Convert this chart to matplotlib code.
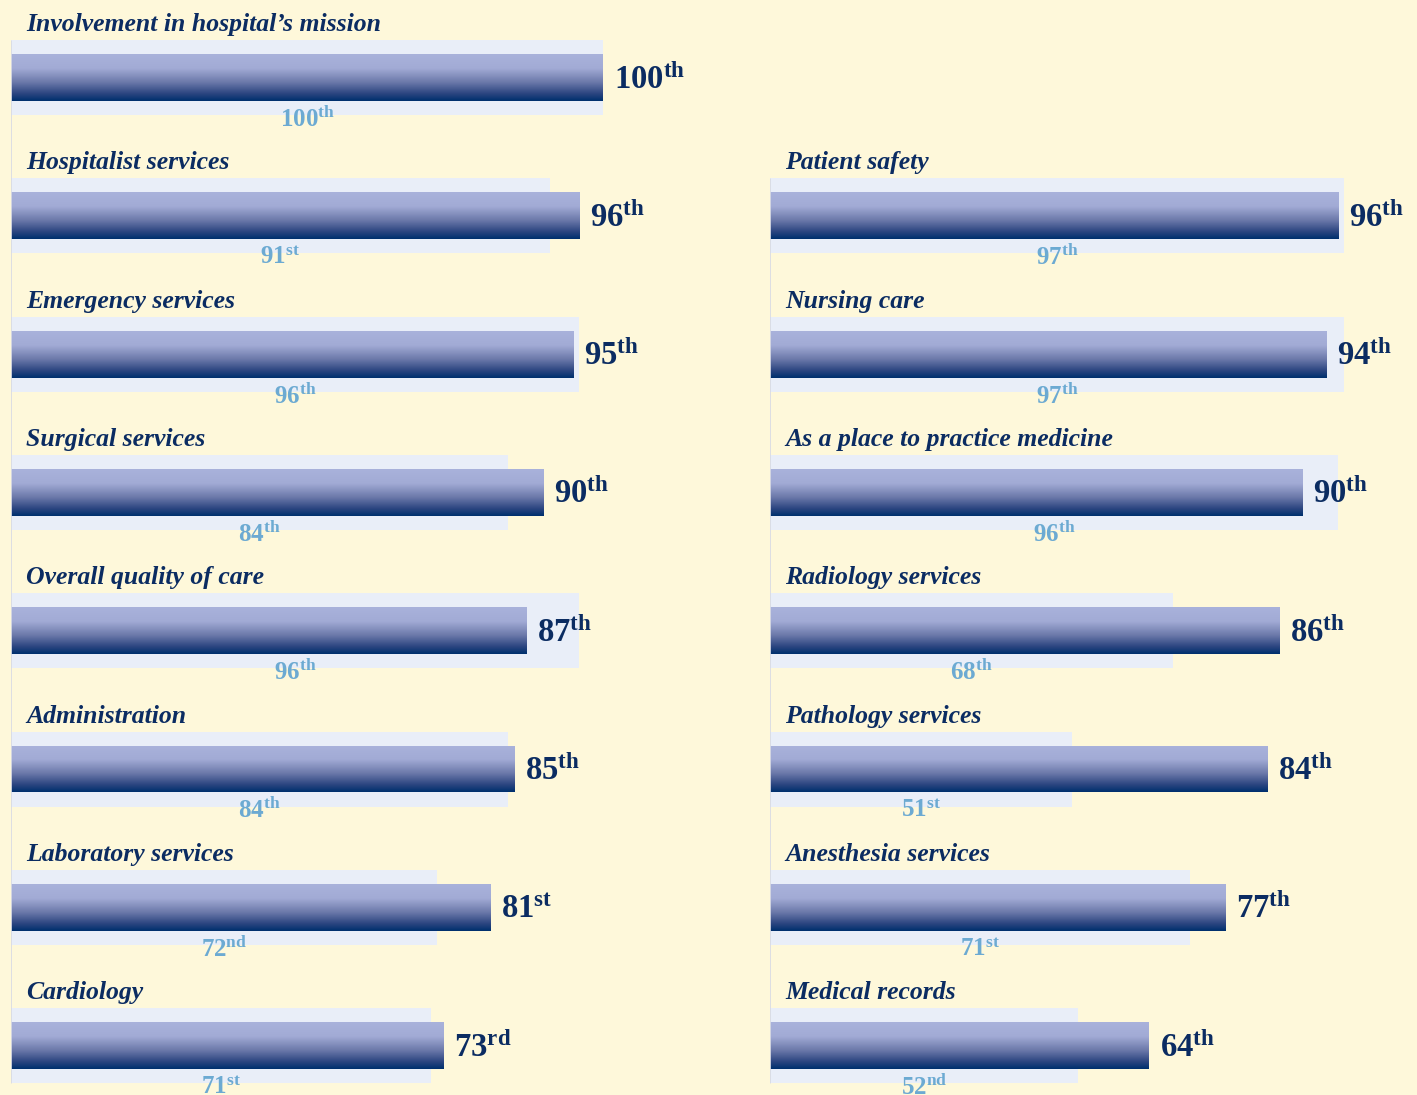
import numpy as np
import matplotlib
matplotlib.use("Agg")
import matplotlib.pyplot as plt
from matplotlib.colors import LinearSegmentedColormap

# Percentile rankings: current score (dark bar) and earlier score (pale bar)
left_labels = ["Involvement in hospital\u2019s mission", "Hospitalist services",
               "Emergency services", "Surgical services", "Overall quality of care",
               "Administration", "Laboratory services", "Cardiology"]
left_now = [100, 96, 95, 90, 87, 85, 81, 73]
left_prev = [100, 91, 96, 84, 96, 84, 72, 71]

right_labels = ["Patient safety", "Nursing care", "As a place to practice medicine",
                "Radiology services", "Pathology services", "Anesthesia services",
                "Medical records"]
right_now = [96, 94, 90, 86, 84, 77, 64]
right_prev = [97, 97, 96, 68, 51, 71, 52]

BG = "#FEF8DA"
PALE = "#E9EEF8"
NAVY = "#0B2C62"
LIGHT_BLUE = "#6CAAD2"
SPINE = "#D9DBE3"

plt.rcParams["mathtext.fontset"] = "custom"
plt.rcParams["mathtext.rm"] = "Liberation Serif"
plt.rcParams["mathtext.bf"] = "Liberation Serif:bold"
plt.rcParams["mathtext.it"] = "Liberation Serif:italic"

grad_cmap = LinearSegmentedColormap.from_list(
    "bar", [(0.0, "#A9B2DB"), (0.3, "#A2ABD5"), (0.6, "#6C79AA"),
            (0.85, "#2B4580"), (1.0, "#00306E")])
gradient = np.linspace(0, 1, 64).reshape(-1, 1)


def ordinal(n):
    if 10 <= n % 100 <= 20:
        suf = "th"
    else:
        suf = {1: "st", 2: "nd", 3: "rd"}.get(n % 10, "th")
    return r"$\mathbf{%d}^{\mathbf{%s}}$" % (n, suf)


W, H = 1417, 1095
fig = plt.figure(figsize=(W / 100, H / 100), dpi=100, facecolor=BG)

px_per_unit = 5.92
row_px = 138.3
row0_px = 77.5
xmax = 109
ylim = ((H - row0_px) / row_px, -row0_px / row_px)

PALE_H = 75 / row_px
BAR_H = 47 / row_px


def draw_column(ax, rows, labels, now, prev):
    ax.set_facecolor("none")
    ax.barh(rows, prev, height=PALE_H, color=PALE, zorder=1)
    bars = ax.barh(rows, now, height=BAR_H, color="none", zorder=2)
    for patch, v, r in zip(bars.patches, now, rows):
        im = ax.imshow(gradient, cmap=grad_cmap, aspect="auto", zorder=2,
                       extent=(0, v, r + BAR_H / 2, r - BAR_H / 2))
        im.set_clip_path(patch)
    for r, lab, v, p in zip(rows, labels, now, prev):
        ax.text(2.6, r - 0.336, lab, fontsize=18.5, style="italic",
                weight="bold", family="Liberation Serif", color=NAVY,
                va="baseline", ha="left")
        ax.text(v + 1.8, r + 0.08, ordinal(v), fontsize=23.5, color=NAVY,
                va="baseline", ha="left")
        ax.text(p / 2, r + 0.35, ordinal(p), fontsize=18, color=LIGHT_BLUE,
                va="baseline", ha="center")
    top = rows[0] - PALE_H / 2
    bottom = rows[-1] + PALE_H / 2
    ax.vlines(-0.25, top, bottom, color=SPINE, lw=2, zorder=3)
    ax.set_xlim(0, xmax)
    ax.set_ylim(*ylim)
    ax.axis("off")


ax_w = xmax * px_per_unit / W
ax_left = fig.add_axes([11 / W, 0, ax_w, 1])
ax_right = fig.add_axes([770 / W, 0, ax_w, 1])

draw_column(ax_left, list(range(8)), left_labels, left_now, left_prev)
draw_column(ax_right, list(range(1, 8)), right_labels, right_now, right_prev)

fig.savefig("out.png", dpi=100, facecolor=BG)
